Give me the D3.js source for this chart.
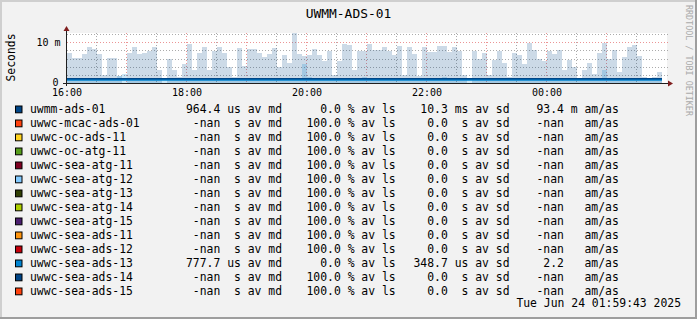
<!DOCTYPE html>
<html>
<head>
<meta charset="utf-8">
<script src="https://cdn.jsdelivr.net/npm/d3@7.9.0/dist/d3.min.js"></script>
<style>
  html, body { margin: 0; padding: 0; background: #f2f2f2; }
  svg { display: block; font-family: "DejaVu Sans Mono", monospace; }
  svg text { white-space: pre; }
</style>
</head>
<body>
<svg id="chart" width="697" height="319"></svg>
<script>
// hosts in the legend, in order
const hosts = ['uwmm-ads-01', 'uwwc-mcac-ads-01', 'uwwc-oc-ads-11', 'uwwc-oc-atg-11',
  'uwwc-sea-atg-11', 'uwwc-sea-atg-12', 'uwwc-sea-atg-13', 'uwwc-sea-atg-14',
  'uwwc-sea-atg-15', 'uwwc-sea-ads-11', 'uwwc-sea-ads-12', 'uwwc-sea-ads-13',
  'uwwc-sea-ads-14', 'uwwc-sea-ads-15'];
const hostColors = ['#004586', '#ff420e', '#ffd320', '#579d1c', '#7e0021', '#83caff',
  '#314004', '#aecf00', '#4b1f6f', '#ff950e', '#c5000b', '#0084d1', '#004586', '#ff420e'];

// legend numbers (value + si prefix)
const avMedian = [964.4, NaN, NaN, NaN, NaN, NaN, NaN, NaN, NaN, NaN, NaN, 777.7, NaN, NaN];
const avMedianPfx = ['u', ' ', ' ', ' ', ' ', ' ', ' ', ' ', ' ', ' ', ' ', 'u', ' ', ' '];
const avLoss = [0.0, 100.0, 100.0, 100.0, 100.0, 100.0, 100.0, 100.0, 100.0, 100.0, 100.0, 0.0, 100.0, 100.0];
const avSdev = [10.3, 0.0, 0.0, 0.0, 0.0, 0.0, 0.0, 0.0, 0.0, 0.0, 0.0, 348.7, 0.0, 0.0];
const avSdevPfx = ['m', ' ', ' ', ' ', ' ', ' ', ' ', ' ', ' ', ' ', ' ', 'u', ' ', ' '];
const amas = [93.4, NaN, NaN, NaN, NaN, NaN, NaN, NaN, NaN, NaN, NaN, 2.2, NaN, NaN];
const amasPfx = ['m', ' ', ' ', ' ', ' ', ' ', ' ', ' ', ' ', ' ', ' ', ' ', ' ', ' '];

const startTime = new Date(2025, 5, 23, 16, 0);
const endTime = new Date(2025, 5, 24, 2, 0);
const stepMinutes = 5;

// 5 minute steps from 16:00, values in ms
// uwmm-ads-01 stddev band (top)
const smokeA = [7.3, 6.1, 6.2, 7.0, 8.8, 8.4, 7.0, 1.9, 6.1, 6.1,
  1.6, 0, 7.3, 8.8, 7.0, 7.3, 7.8, 8.8, 3.1, 0,
  5.9, 3.1, 1.4, 4.7, 9.6, 3.1, 7.3, 8.8, 3.3, 7.9,
  8.8, 7.3, 3.8, 1.4, 8.6, 4.2, 8.4, 8.4, 7.3, 6.3,
  7.0, 8.6, 3.9, 6.8, 5.0, 12.2, 7.0, 6.6, 6.9, 8.4,
  6.8, 5.4, 7.8, 2.0, 5.4, 9.6, 9.4, 3.1, 7.9, 7.9,
  9.6, 8.0, 8.0, 8.9, 7.8, 6.9, 9.1, 2.0, 8.8, 7.2,
  1.8, 8.8, 7.7, 7.7, 9.0, 9.0, 7.6, 8.8, 7.9, 1.9,
  0, 7.9, 5.8, 7.4, 1.9, 5.6, 7.9, 5.0, 1.5, 7.4,
  6.8, 4.6, 9.8, 8.1, 5.8, 5.4, 7.9, 7.0, 8.0, 3.1,
  5.6, 3.9, 1.2, 3.3, 5.0, 2.3, 7.4, 9.7, 5.8, 8.0,
  2.7, 6.4, 8.8, 9.2, 6.6, 1.5, 1.2, 1.5, 2.7];
// uwwc-sea-ads-13 stddev band (top)
const smokeB = [1.3, 0.8, 0.8, 0.8, 0.8, 0.8, 0.8, 0.8, 0.8, 0.8,
  1.6, 2.1, 0.8, 0.8, 0.8, 0.8, 0.8, 0.8, 0.8, 0.8,
  0.8, 0.8, 0.8, 0.8, 0.8, 0.8, 0.8, 0.8, 0.8, 0.8,
  0.8, 0.8, 0.8, 0.8, 0.8, 0.8, 0.8, 0.8, 0.8, 0.8,
  0.8, 0.8, 0.8, 0.8, 0.8, 0.8, 0.8, 4.6, 1.5, 0.8,
  0.8, 1.2, 0.8, 0.8, 1.3, 0.8, 0.8, 0.8, 0.8, 1.4,
  0.8, 0.8, 0.8, 0.8, 0.8, 0.8, 0.8, 0.8, 0.8, 0.8,
  0.8, 0.8, 0.8, 0.8, 0.8, 1.5, 0.8, 0.8, 0.8, 0.8,
  0.8, 0.8, 0.8, 0.8, 0.8, 0.8, 0.8, 0.8, 0.8, 0.8,
  0.8, 0.8, 0.8, 0.8, 0.8, 0.8, 1.2, 1.2, 0.8, 0.8,
  1.1, 1.1, 0.8, 0.8, 0.8, 0.8, 0.8, 3.1, 0.8, 0.8,
  0.8, 0.8, 0.8, 0.8, 0.8, 1.0, 1.0, 1.0, 1.0];
// medians, ms
const medianA = [0.96, 0.96, 0.96, 0.96, 0.96, 0.96, 0.96, 0.96, 0.96, 0.96,
  0.96, 0.96, 0.96, 0.96, 0.96, 0.96, 0.96, 0.96, 0.96, 0.96,
  0.96, 0.96, 0.96, 0.96, 0.96, 0.96, 0.96, 0.96, 0.96, 0.96,
  0.96, 0.96, 0.96, 0.96, 0.96, 0.96, 0.96, 0.96, 0.96, 0.96,
  0.96, 0.96, 0.96, 0.96, 0.96, 0.96, 0.96, 0.96, 0.96, 0.96,
  0.96, 0.96, 0.96, 0.96, 0.96, 0.96, 0.96, 0.96, 0.96, 0.96,
  0.96, 0.96, 0.96, 0.96, 0.96, 0.96, 0.96, 0.96, 0.96, 0.96,
  0.96, 0.96, 0.96, 0.96, 0.96, 0.96, 0.96, 0.96, 0.96, 0.96,
  0.96, 0.96, 0.96, 0.96, 0.96, 0.96, 0.96, 0.96, 0.96, 0.96,
  0.96, 0.96, 0.96, 0.96, 0.96, 0.96, 0.96, 0.96, 0.96, 0.96,
  0.96, 0.96, 0.96, 0.96, 0.96, 0.96, 0.96, 0.96, 0.96, 0.96,
  0.96, 0.96, 0.96, 0.96, 0.96, 0.96, 0.96, 0.96, 0.96];
const medianB = [0.72, 0.72, 0.72, 0.72, 0.72, 0.72, 0.72, 0.72, 0.72, 0.72,
  0.72, 0.72, 0.72, 0.72, 0.72, 0.72, 0.72, 0.72, 0.72, 0.72,
  0.72, 0.72, 0.72, 0.72, 0.72, 0.72, 0.72, 0.72, 0.72, 0.72,
  0.72, 0.72, 0.72, 0.72, 0.72, 0.72, 0.72, 0.72, 0.72, 0.72,
  0.72, 0.72, 0.72, 0.72, 0.72, 0.72, 0.72, 0.72, 0.72, 0.72,
  0.72, 0.72, 0.72, 0.72, 0.72, 0.72, 0.72, 0.72, 0.72, 0.72,
  0.72, 0.72, 0.72, 0.72, 0.72, 0.72, 0.72, 0.72, 0.72, 0.72,
  0.72, 0.72, 0.72, 0.72, 0.72, 0.72, 0.72, 0.72, 0.72, 0.72,
  0.72, 0.72, 0.72, 0.72, 0.72, 0.72, 0.72, 0.72, 0.72, 0.72,
  0.72, 0.72, 0.72, 0.72, 0.72, 0.72, 0.72, 0.72, 0.72, 0.72,
  0.72, 0.72, 0.72, 0.72, 0.72, 0.72, 0.72, 0.72, 0.72, 0.72,
  0.72, 0.72, 0.72, 0.72, 0.72, 0.72, 0.72, 0.72, 0.72];

const minorTicksY = [2, 4, 6, 8, 12];
const majorTicksY = [10];
const yTickLabels = [{ v: 10, text: '10 m' }, { v: 0, text: '0' }];

const W = 697, H = 319;
const svg = d3.select('#chart');

// background + rrdtool style shading
svg.append('rect').attr('width', W).attr('height', H).attr('fill', '#f2f2f2');
svg.append('path').attr('d', `M0,0H${W}V2H2V${H}H0Z`).attr('fill', '#cfcfcf');
svg.append('path').attr('d', `M${W},${H}H0V${H - 2}H${W - 2}V0H${W}Z`).attr('fill', '#9e9e9e');

const x = d3.scaleTime().domain([startTime, endTime]).range([67, 667]);
const y = d3.scaleLinear().domain([0, 12.25]).range([83, 33]);

svg.append('rect').attr('x', 67).attr('y', 33).attr('width', 600).attr('height', 50).attr('fill', '#fff');

const tAt = (i) => d3.timeMinute.offset(startTime, i * stepMinutes);

// grid
const grid = svg.append('g').attr('fill', 'none').attr('stroke-width', 1).attr('stroke-dasharray', '1,2');
d3.timeMinute.every(30).range(d3.timeMinute.offset(startTime, 1), endTime).forEach((t) => {
  const px = Math.round(x(t)) - 0.5;
  grid.append('line')
    .attr('x1', px).attr('x2', px).attr('y1', 33).attr('y2', 83)
    .attr('stroke', t.getMinutes() === 0 ? 'rgba(222,79,79,0.6)' : 'rgba(143,143,143,0.75)');
});
minorTicksY.forEach((v) => {
  const py = Math.round(y(v)) + 0.5;
  grid.append('line').attr('x1', 67).attr('x2', 668).attr('y1', py).attr('y2', py)
    .attr('stroke', 'rgba(143,143,143,0.75)');
});
majorTicksY.forEach((v) => {
  const py = Math.round(y(v)) + 0.5;
  grid.append('line').attr('x1', 67).attr('x2', 668).attr('y1', py).attr('y2', py)
    .attr('stroke', 'rgba(222,79,79,0.6)');
});

// smoke (stddev bands)
function drawSmoke(values, color) {
  svg.append('g').attr('shape-rendering', 'crispEdges')
    .selectAll('rect').data(values).join('rect')
    .attr('x', (d, i) => x(tAt(i)))
    .attr('width', (d, i) => x(tAt(i + 1)) - x(tAt(i)))
    .attr('y', (d) => y(d))
    .attr('height', (d) => y(0) - y(d))
    .attr('fill', color)
    .attr('fill-opacity', 0.2);
}
drawSmoke(smokeA, hostColors[0]);
drawSmoke(smokeB, hostColors[11]);

// median lines
function drawMedian(values, color, width) {
  const pts = values.map((v, i) => [tAt(i), v]);
  pts.push([tAt(values.length), values[values.length - 1]]);
  const line = d3.line().x((d) => x(d[0])).y((d) => y(d[1])).curve(d3.curveStepAfter);
  svg.append('path').datum(pts).attr('d', line)
    .attr('fill', 'none').attr('stroke', color).attr('stroke-width', width);
}
drawMedian(medianA, hostColors[0], 2);
drawMedian(medianB, hostColors[11], 1.2);

// axes
svg.append('line').attr('x1', 63).attr('x2', 670).attr('y1', 83.5).attr('y2', 83.5).attr('stroke', '#1f1f1f');
svg.append('line').attr('x1', 66.5).attr('x2', 66.5).attr('y1', 86).attr('y2', 29).attr('stroke', '#1f1f1f');
svg.append('path').attr('d', 'M668,80.5L673,83.5L668,86.5Z').attr('fill', '#801f1f');
svg.append('path').attr('d', 'M63.5,31L66.5,26L69.5,31Z').attr('fill', '#801f1f');

// x labels
const xLabels = d3.timeHour.every(2).range(startTime, endTime);
svg.append('g').selectAll('text').data(xLabels).join('text')
  .attr('x', (d) => x(d)).attr('y', 96)
  .attr('text-anchor', 'middle').attr('font-size', 10)
  .text(d3.timeFormat('%H:%M'));

// y labels
svg.append('text').attr('x', 60.5).attr('y', y(10) + 3.6).attr('text-anchor', 'end')
  .attr('font-size', 10).text(yTickLabels[0].text);
svg.append('text').attr('x', 55.4).attr('y', y(0) + 3).attr('text-anchor', 'middle')
  .attr('font-size', 10).text(yTickLabels[1].text);

// title, unit, watermark
svg.append('text').attr('x', 348.5).attr('y', 18).attr('text-anchor', 'middle')
  .attr('font-size', 12.9).text('UWMM-ADS-01');
svg.append('text').attr('transform', 'translate(15,57.5) rotate(-90)')
  .attr('text-anchor', 'middle').attr('font-size', 11.4).text('Seconds');
svg.append('text').attr('transform', 'translate(685.5,5) rotate(90)')
  .attr('font-size', 8.4).attr('fill', '#aaaaaa').text('RRDTOOL / TOBI OETIKER');

// legend
const fmt = (v) => (isNaN(v) ? '-nan' : v.toFixed(1)).padStart(5, ' ');
const legend = svg.append('g').attr('font-size', 11.4);
hosts.forEach((h, i) => {
  const base = 113.3 + 14 * i;
  legend.append('rect').attr('x', 15.5).attr('y', base - 7.3).attr('width', 6.5).attr('height', 6.8)
    .attr('fill', hostColors[i]).attr('stroke', '#000').attr('stroke-width', 1);
  const fields = [
    [30, h],
    [186, `${fmt(avMedian[i])} ${avMedianPfx[i]}s av md`],
    [306.5, `${fmt(avLoss[i])} % av ls`],
    [413.5, `${fmt(avSdev[i])} ${avSdevPfx[i]}s av sd`],
    [529.6, `${fmt(amas[i])} ${amasPfx[i]} am/as`],
  ];
  fields.forEach(([fx, s]) => {
    legend.append('text').attr('x', fx).attr('y', base).text(s);
  });
});
legend.append('text').attr('x', 681).attr('y', 307).attr('text-anchor', 'end')
  .text('Tue Jun 24 01:59:43 2025');
</script>
</body>
</html>
